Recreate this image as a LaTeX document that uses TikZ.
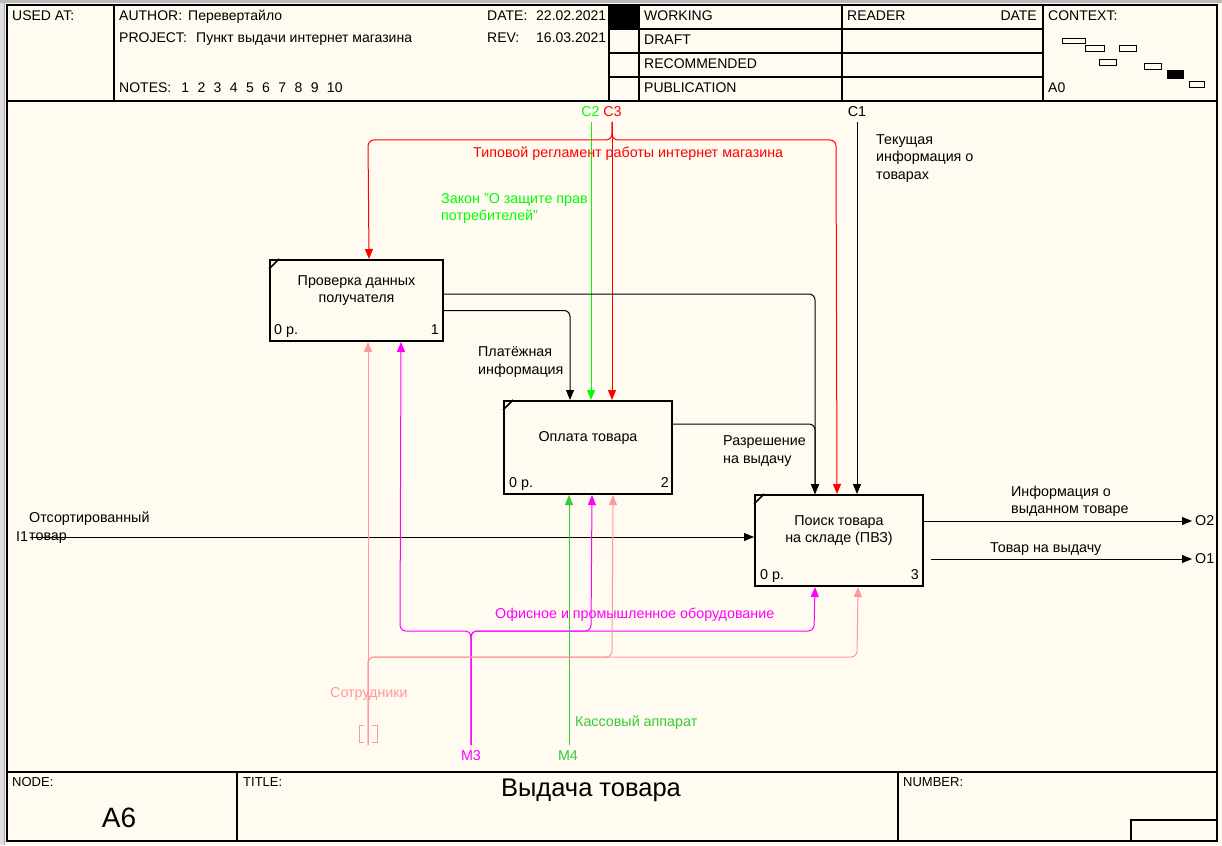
\documentclass[tikz,border=0pt]{standalone}
\usepackage{fontspec}
\setmainfont{Liberation Sans}
\usetikzlibrary{arrows.meta, positioning, calc}
\definecolor{paper}{RGB}{255,251,240}
\definecolor{ctlred}{RGB}{255,0,0}
\definecolor{lawgreen}{RGB}{0,255,0}
\definecolor{cashgreen}{RGB}{51,204,51}
\definecolor{eqmagenta}{RGB}{255,0,255}
\definecolor{staffpink}{RGB}{255,153,153}

\begin{document}
\begin{tikzpicture}[x=1pt, y=-1pt,
        box/.style={draw, line width=2pt, anchor=north west, inner sep=0pt},
        fname/.style={font=\fontsize{14.3}{17.5}\selectfont, align=center, inner sep=0pt},
        lbl/.style={font=\fontsize{14.3}{17.5}\selectfont, align=left, anchor=west, inner sep=0pt},
        tag/.style={font=\fontsize{14.3}{17}\selectfont, inner sep=0pt},
        cost/.style={font=\fontsize{14.3}{17}\selectfont, inner sep=0pt, anchor=base west},
        numb/.style={font=\fontsize{14.3}{17}\selectfont, inner sep=0pt, anchor=base east},
        hdr/.style={font=\fontsize{14}{16}\selectfont, inner sep=0pt, anchor=base west},
        foot/.style={font=\fontsize{13}{15}\selectfont, inner sep=0pt, anchor=base west},
        flow/.style={-{Triangle[length=10pt,width=8pt]}, line width=1pt, rounded corners=6pt},
        gridline/.style={line width=1.5pt}
    ]
    \useasboundingbox (0,0) rectangle (1222,845);
    \fill[paper] (0,0) rectangle (1222,845);
    \fill[gray!25] (0,0) rectangle (5,845);
    \fill[gray!55] (0,0) rectangle (1222,3);
    \draw[gray!70] (4.5,3) -- (4.5,845);

    % frame
    \draw[line width=2pt] (7,5) rectangle (1217,841);
    \draw[line width=2pt] (7,101) -- (1217,101);
    \draw[line width=2pt] (7,772) -- (1217,772);
    \draw[gridline] (114,5) -- (114,101);
    \draw[gridline] (609,5) -- (609,101);
    \draw[gridline] (639,5) -- (639,101);
    \draw[gridline] (842,5) -- (842,101);
    \draw[gridline] (1043,5) -- (1043,101);
    \draw[gridline] (609,29) -- (1043,29);
    \draw[gridline] (609,53) -- (1043,53);
    \draw[gridline] (609,77) -- (1043,77);
    \fill (609,5) rectangle (639,29);
    \draw[gridline] (237,772) -- (237,841);
    \draw[gridline] (898,772) -- (898,841);
    \draw[gridline] (1131,841) |- (1217,820);

    \node[hdr] (usedat) at (12,21) {USED AT:};
    \node[hdr] (author) at (119,21) {AUTHOR:};
    \node[hdr] (authorv) at (188,21) {Перевертайло};
    \node[hdr] (project) at (119,43) {PROJECT:};
    \node[hdr] (projectv) at (196,43) {Пункт выдачи интернет магазина};
    \node[hdr] (notes) at (119,93) {NOTES:\hspace{10pt}1\hspace{8.4pt}2\hspace{8.4pt}3\hspace{8.4pt}4\hspace{8.4pt}5\hspace{8.4pt}6\hspace{8.4pt}7\hspace{8.4pt}8\hspace{8.4pt}9\hspace{8.4pt}10};
    \node[hdr] (date) at (487,21) {DATE:};
    \node[hdr] (datev) at (536,21) {22.02.2021};
    \node[hdr] (rev) at (487,43) {REV:};
    \node[hdr] (revv) at (536,43) {16.03.2021};
    \node[hdr] (working) at (644,21) {WORKING};
    \node[hdr] (draft) at (644,45) {DRAFT};
    \node[hdr] (recomm) at (644,69) {RECOMMENDED};
    \node[hdr] (public) at (644,93) {PUBLICATION};
    \node[hdr] (reader) at (847,21) {READER};
    \node[hdr, anchor=base east] (rdate) at (1037,21) {DATE};
    \node[hdr] (context) at (1048,21) {CONTEXT:};
    \node[hdr] (ctxnode) at (1048,93) {A0};
    \draw (1062,38) rectangle (1085,43) (1085,45) rectangle (1104,51)
        (1119,45) rectangle (1136,51) (1099,59) rectangle (1116,65)
        (1144,63) rectangle (1161,69) (1189,81) rectangle (1204,87);
    \fill (1167,70) rectangle (1184,79);

    \node[foot] (nodelbl) at (12,786) {NODE:};
    \node[foot] (titlelbl) at (243,786) {TITLE:};
    \node[foot] (numberlbl) at (903,786) {NUMBER:};
    \node[inner sep=0pt, font=\fontsize{28}{30}\selectfont] (nodeno) at (119,818) {A6};
    \node[inner sep=0pt, font=\fontsize{25.5}{28}\selectfont] (title) at (591,790) {Выдача товара};

    % functions
    \node[box, minimum width=173, minimum height=81] (b1) at (269,259) {};
    \node[box, minimum width=168, minimum height=93] (b2) at (503,400) {};
    \node[box, minimum width=168, minimum height=91] (b3) at (754,494) {};
    \foreach \b in {b1,b2,b3}
        \draw[line width=1.5pt] ($(\b.north west)+(0,10)$) -- ($(\b.north west)+(10,0)$);
    \node[fname] (b1t) at ([yshift=10pt]b1.center) {Проверка данных\\получателя};
    \node[fname] (b2t) at ([yshift=10pt]b2.center) {Оплата товара};
    \node[fname] (b3t) at ([yshift=10pt]b3.center) {Поиск товара\\на складе (ПВЗ)};
    \node[cost] (b1c) at ([xshift=5pt,yshift=7.5pt]b1.south west) {0 р.};
    \node[cost] (b2c) at ([xshift=6pt,yshift=7.5pt]b2.south west) {0 р.};
    \node[cost] (b3c) at ([xshift=6pt,yshift=7.5pt]b3.south west) {0 р.};
    \node[numb] (b1n) at ([xshift=-5pt,yshift=7.5pt]b1.south east) {1};
    \node[numb] (b2n) at ([xshift=-4pt,yshift=7.5pt]b2.south east) {2};
    \node[numb] (b3n) at ([xshift=-5pt,yshift=7.5pt]b3.south east) {3};

    % boundary ends
    \coordinate (c1) at (857,122);
    \coordinate (c2) at (591,122);
    \coordinate (c3) at (612,122);
    \coordinate (i1) at (30,537);
    \coordinate (o1) at (1192,559);
    \coordinate (o2) at (1192,521);
    \coordinate (m3) at (471,745);
    \coordinate (m4) at (569,745);
    \coordinate (staff) at (368,745);

    \node[tag, text=lawgreen] (c2l) at (590.5,112) {C2};
    \node[tag, text=ctlred] (c3l) at (612.5,112) {C3};
    \node[tag] (c1l) at (857,112) {C1};
    \node[lbl] (i1l) at (16,537) {I1};
    \node[lbl] (o2l) at (1195,521) {O2};
    \node[lbl] (o1l) at (1195,559) {O1};
    \node[tag, text=eqmagenta] (m3l) at (471,756) {M3};
    \node[tag, text=cashgreen] (m4l) at (568,756) {M4};

    % controls
    \draw[flow, lawgreen] (c2) -- (b2.north -| c2);
    \draw[flow, ctlred] (c3) -- (b2.north -| c3);
    \draw[flow, ctlred] (c3) |- (368,140) -- ([xshift=12.5pt]b1.north);
    \draw[flow, ctlred] (c3) |- (836,140) -- ([xshift=-2pt]b3.north);
    \draw[flow] (c1) -- (b3.north -| c1);
    \draw[flow] ([yshift=6.5pt]b1.east) -| ([xshift=-24pt]b3.north);
    \draw[flow] ([yshift=-10pt]b1.east) -| ([xshift=-18pt]b2.north);
    \draw[flow] ([yshift=23.5pt]b2.east) -| ([xshift=-24pt]b3.north);

    % input, outputs
    \draw[flow] (i1) -- (b3.west |- i1);
    \draw[flow] (b3.east |- o2) -- (o2);
    \draw[flow] ($(b3.east |- o1)+(7,0)$) -- (o1);

    % mechanisms
    \draw[flow, eqmagenta] (m3) |- (400,631) -- ([xshift=44.5pt]b1.south);
    \draw[flow, eqmagenta] (m3) |- (814,631) -- ([xshift=-24pt]b3.south);
    \draw[flow, eqmagenta] (m3) |- (591,631) -- ([xshift=4pt]b2.south);
    \draw[flow, cashgreen] (m4) -- (b2.south -| m4);
    \draw[flow, staffpink] (staff) -- (b1.south -| staff);
    \draw[flow, staffpink] (staff) |- (857,657) -- ([xshift=19pt]b3.south);
    \draw[flow, staffpink] (staff) |- (612,657) -- ([xshift=25pt]b2.south);
    \draw[staffpink] (364,725) -| (359,742) -- (364,742) (372,725) -| (377,742) -- (372,742);

    % arrow labels
    \node[lbl, text=ctlred] (reglam) at (473,154) {Типовой регламент работы интернет магазина};
    \node[lbl, text=lawgreen] (law) at (441,208.5) {Закон "О защите прав\\потребителей"};
    \node[lbl] (curinfo) at (876,158.5) {Текущая\\информация о\\товарах};
    \node[lbl] (payinfo) at (478,362) {Платёжная\\информация};
    \node[lbl] (permit) at (723,451) {Разрешение\\на выдачу};
    \node[lbl] (sorted) at (29,527.5) {Отсортированный\\товар};
    \node[lbl] (issinfo) at (1011,501.5) {Информация о\\выданном товаре};
    \node[lbl] (goods) at (990,549) {Товар на выдачу};
    \node[lbl, text=eqmagenta] (equip) at (495,615) {Офисное и промышленное оборудование};
    \node[lbl, text=staffpink] (staffl) at (330,694) {Сотрудники};
    \node[lbl, text=cashgreen] (cash) at (575,723) {Кассовый аппарат};
\end{tikzpicture}
\end{document}
